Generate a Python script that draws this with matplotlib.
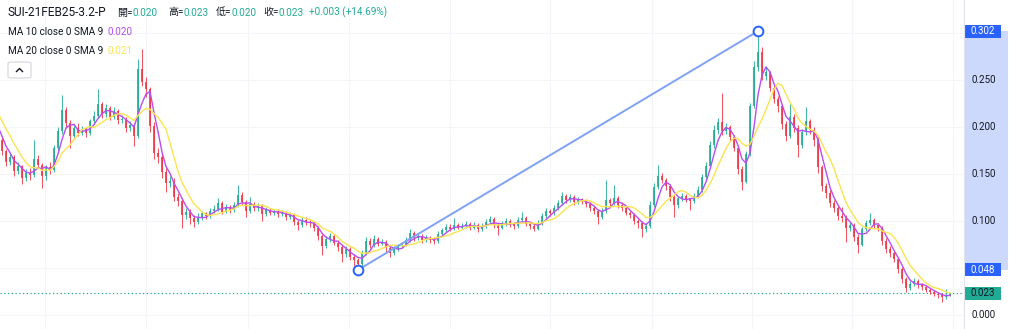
import numpy as np
import pandas as pd
import matplotlib
matplotlib.use("Agg")
import matplotlib.pyplot as plt
from matplotlib.patches import Rectangle, FancyBboxPatch
from matplotlib.lines import Line2D

# candle data (first 8 candles sit left of the visible area)
closes = [0.236, 0.232, 0.226, 0.220, 0.214, 0.205, 0.196, 0.186,
          0.174, 0.163, 0.168, 0.153, 0.158, 0.146, 0.151, 0.149, 0.166, 0.160,
          0.148, 0.157, 0.154, 0.178, 0.196, 0.218, 0.204, 0.190, 0.199, 0.194,
          0.198, 0.194, 0.206, 0.212, 0.224, 0.214, 0.220, 0.211, 0.217, 0.207,
          0.209, 0.199, 0.202, 0.190, 0.262, 0.248, 0.240, 0.201, 0.172, 0.168,
          0.152, 0.140, 0.143, 0.126, 0.121, 0.106, 0.110, 0.103, 0.099, 0.104,
          0.108, 0.105, 0.111, 0.113, 0.119, 0.110, 0.115, 0.112, 0.117, 0.128,
          0.120, 0.111, 0.118, 0.114, 0.116, 0.107, 0.112, 0.109, 0.111, 0.107,
          0.109, 0.104, 0.106, 0.099, 0.096, 0.101, 0.099, 0.098, 0.093, 0.084,
          0.073, 0.081, 0.084, 0.077, 0.072, 0.065, 0.070, 0.062, 0.059, 0.054,
          0.066, 0.079, 0.074, 0.081, 0.076, 0.078, 0.071, 0.066, 0.070, 0.073,
          0.075, 0.080, 0.087, 0.082, 0.084, 0.080, 0.082, 0.080, 0.079, 0.086,
          0.090, 0.094, 0.092, 0.096, 0.093, 0.095, 0.097, 0.093, 0.096, 0.091,
          0.095, 0.099, 0.102, 0.096, 0.093, 0.097, 0.100, 0.097, 0.095, 0.101,
          0.103, 0.097, 0.095, 0.092, 0.098, 0.105, 0.111, 0.108, 0.114, 0.119,
          0.127, 0.122, 0.126, 0.120, 0.123, 0.121, 0.118, 0.114, 0.111, 0.104,
          0.111, 0.122, 0.119, 0.125, 0.117, 0.114, 0.109, 0.106, 0.100, 0.098,
          0.091, 0.095, 0.117, 0.136, 0.148, 0.144, 0.137, 0.126, 0.117, 0.124,
          0.127, 0.123, 0.121, 0.127, 0.133, 0.147, 0.159, 0.181, 0.197, 0.205,
          0.196, 0.200, 0.189, 0.178, 0.155, 0.142, 0.171, 0.222, 0.264, 0.280,
          0.254, 0.258, 0.242, 0.230, 0.222, 0.203, 0.190, 0.211, 0.199, 0.181,
          0.195, 0.206, 0.197, 0.186, 0.157, 0.137, 0.130, 0.119, 0.114, 0.105,
          0.103, 0.093, 0.096, 0.083, 0.075, 0.091, 0.098, 0.101, 0.096, 0.093,
          0.079, 0.070, 0.066, 0.060, 0.049, 0.038, 0.029, 0.033, 0.036, 0.032,
          0.030, 0.027, 0.025, 0.022, 0.021, 0.019, 0.020, 0.023]

highs = [0.240, 0.238, 0.233, 0.227, 0.222, 0.216, 0.208, 0.199,
         0.190, 0.177, 0.172, 0.170, 0.163, 0.160, 0.155, 0.156, 0.186, 0.170,
         0.162, 0.160, 0.163, 0.181, 0.200, 0.234, 0.221, 0.207, 0.203, 0.204,
         0.201, 0.200, 0.209, 0.217, 0.240, 0.227, 0.224, 0.222, 0.221, 0.219,
         0.213, 0.211, 0.206, 0.204, 0.272, 0.283, 0.253, 0.243, 0.205, 0.178,
         0.171, 0.156, 0.148, 0.146, 0.130, 0.124, 0.114, 0.113, 0.106, 0.108,
         0.111, 0.110, 0.114, 0.117, 0.125, 0.121, 0.118, 0.117, 0.120, 0.138,
         0.131, 0.122, 0.126, 0.120, 0.119, 0.118, 0.115, 0.114, 0.113, 0.113,
         0.112, 0.111, 0.110, 0.108, 0.101, 0.104, 0.104, 0.102, 0.100, 0.095,
         0.086, 0.084, 0.087, 0.086, 0.080, 0.074, 0.073, 0.072, 0.065, 0.061,
         0.069, 0.083, 0.082, 0.085, 0.083, 0.081, 0.080, 0.073, 0.073, 0.076,
         0.078, 0.083, 0.091, 0.089, 0.087, 0.086, 0.085, 0.084, 0.083, 0.089,
         0.093, 0.097, 0.097, 0.103, 0.098, 0.098, 0.100, 0.099, 0.099, 0.098,
         0.098, 0.102, 0.105, 0.104, 0.098, 0.100, 0.103, 0.102, 0.099, 0.104,
         0.110, 0.105, 0.099, 0.097, 0.101, 0.108, 0.114, 0.113, 0.117, 0.122,
         0.131, 0.129, 0.129, 0.128, 0.126, 0.125, 0.123, 0.120, 0.116, 0.113,
         0.114, 0.144, 0.125, 0.138, 0.127, 0.120, 0.116, 0.111, 0.108, 0.102,
         0.100, 0.098, 0.121, 0.140, 0.160, 0.151, 0.146, 0.139, 0.128, 0.127,
         0.130, 0.129, 0.125, 0.130, 0.137, 0.150, 0.163, 0.185, 0.202, 0.210,
         0.236, 0.204, 0.202, 0.192, 0.180, 0.158, 0.175, 0.226, 0.270, 0.302,
         0.285, 0.264, 0.260, 0.245, 0.233, 0.225, 0.206, 0.225, 0.214, 0.202,
         0.198, 0.221, 0.209, 0.200, 0.189, 0.160, 0.140, 0.133, 0.122, 0.117,
         0.115, 0.106, 0.099, 0.098, 0.086, 0.094, 0.101, 0.108, 0.103, 0.098,
         0.095, 0.082, 0.073, 0.068, 0.062, 0.051, 0.040, 0.036, 0.039, 0.038,
         0.034, 0.032, 0.029, 0.027, 0.024, 0.023, 0.028, 0.023]

lows = [0.229, 0.227, 0.221, 0.215, 0.208, 0.200, 0.190, 0.181,
        0.170, 0.158, 0.160, 0.148, 0.150, 0.139, 0.143, 0.144, 0.147, 0.156,
        0.135, 0.144, 0.150, 0.152, 0.174, 0.193, 0.199, 0.178, 0.187, 0.190,
        0.191, 0.189, 0.192, 0.203, 0.210, 0.210, 0.211, 0.207, 0.208, 0.203,
        0.204, 0.195, 0.196, 0.180, 0.188, 0.244, 0.232, 0.195, 0.166, 0.162,
        0.146, 0.131, 0.136, 0.121, 0.116, 0.093, 0.102, 0.097, 0.094, 0.097,
        0.101, 0.102, 0.103, 0.108, 0.111, 0.107, 0.108, 0.109, 0.110, 0.115,
        0.117, 0.104, 0.109, 0.111, 0.111, 0.100, 0.105, 0.106, 0.106, 0.104,
        0.105, 0.101, 0.102, 0.096, 0.090, 0.094, 0.096, 0.094, 0.089, 0.080,
        0.064, 0.071, 0.078, 0.074, 0.068, 0.056, 0.062, 0.058, 0.052, 0.048,
        0.052, 0.064, 0.071, 0.072, 0.073, 0.074, 0.067, 0.062, 0.064, 0.068,
        0.071, 0.073, 0.078, 0.079, 0.080, 0.077, 0.078, 0.077, 0.076, 0.077,
        0.084, 0.088, 0.089, 0.090, 0.091, 0.091, 0.093, 0.090, 0.091, 0.088,
        0.089, 0.093, 0.097, 0.093, 0.085, 0.091, 0.095, 0.094, 0.092, 0.093,
        0.099, 0.095, 0.092, 0.089, 0.090, 0.096, 0.103, 0.105, 0.106, 0.112,
        0.117, 0.119, 0.120, 0.117, 0.118, 0.118, 0.115, 0.111, 0.107, 0.097,
        0.102, 0.109, 0.116, 0.117, 0.114, 0.111, 0.106, 0.103, 0.097, 0.093,
        0.083, 0.088, 0.093, 0.115, 0.134, 0.140, 0.133, 0.121, 0.104, 0.114,
        0.121, 0.120, 0.112, 0.119, 0.125, 0.131, 0.145, 0.157, 0.178, 0.193,
        0.192, 0.193, 0.185, 0.174, 0.150, 0.133, 0.140, 0.169, 0.220, 0.260,
        0.250, 0.250, 0.238, 0.226, 0.216, 0.198, 0.185, 0.188, 0.195, 0.168,
        0.178, 0.192, 0.193, 0.180, 0.151, 0.132, 0.125, 0.115, 0.110, 0.101,
        0.099, 0.078, 0.089, 0.079, 0.066, 0.073, 0.089, 0.096, 0.093, 0.089,
        0.075, 0.066, 0.062, 0.056, 0.045, 0.034, 0.025, 0.027, 0.031, 0.029,
        0.027, 0.024, 0.022, 0.020, 0.018, 0.014, 0.017, 0.020]

warmup = 8

# trend line drawn on the chart: candle index and price of both ends
trend_idx = [89, 189]
trend_price = [0.048, 0.302]
last_price = 0.023
tick_values = [0.250, 0.200, 0.150, 0.100, 0.000]
grid_prices = [0.0, 0.05, 0.10, 0.15, 0.20, 0.25, 0.30]

title = "SUI-21FEB25-3.2-P"
ohlc_labels = ["開=", "高=", "低=", "收="]
ohlc_values = ["0.020", "0.023", "0.020", "0.023"]
change_text = "+0.003 (+14.69%)"
ma_labels = ["MA 10 close 0 SMA 9", "MA 20 close 0 SMA 9"]
ma_values = ["0.020", "0.021"]

W, H = 1024, 329
UP = "#22ab94"
DOWN = "#f23645"
PURPLE = "#b84df5"
YELLOW = "#fbe44f"
TEXT = "#131722"
BLUE = "#2962ff"

c = np.array(closes)
hi = np.array(highs)
lo = np.array(lows)
o = np.r_[c[0], c[:-1]]
x = np.arange(len(c)) - warmup
col = np.where(c >= o, UP, DOWN)

fig = plt.figure(figsize=(W / 100, H / 100), dpi=100)
fig.patch.set_facecolor("white")
ax = fig.add_axes([0, 0, 963 / W, 1])
ax.set_xlim(-0.5, 240.25)
ax.set_ylim((315 - H) / 940, 315 / 940)
ax.axis("off")

# faint grid
for gp in grid_prices:
    ax.axhline(gp, color="#f3f5f9", lw=0.8, zorder=0)
for px in [45, 146, 248, 349, 450, 550, 652, 752, 852, 953]:
    ax.axvline((px - 2) / 4, color="#f3f5f9", lw=0.8, zorder=0)

# candles
ax.vlines(x, lo, hi, colors=col, lw=0.75, alpha=0.85, zorder=2)
ax.bar(x, np.maximum(np.abs(c - o), 0.0008), bottom=np.minimum(o, c),
       width=0.62, color=col, linewidth=0, alpha=0.85, zorder=3)

# moving averages
s = pd.Series(c)
ax.plot(x, s.rolling(4).mean(), color=PURPLE, lw=1.0, zorder=4)
ax.plot(x, s.rolling(8).mean(), color=YELLOW, lw=1.0, zorder=4)

# last price line
ax.axhline(last_price, color=UP, lw=0.9, ls=(0, (1, 2)), zorder=1)

# trend line
ax.plot(trend_idx, trend_price, color="#7fa2f6", lw=1.4, zorder=5)
ax.plot(trend_idx, trend_price, "o", ms=7, mfc="white", mec=BLUE, mew=1.4, zorder=6)


def fx(px):
    return px / W


def fy(py):
    return 1 - py / H


def py(price):
    return 315 - 940 * price


# price scale
fig.add_artist(Line2D([fx(963.5), fx(963.5)], [0, 1], color="#e0e3eb", lw=0.8))
fig.add_artist(Rectangle((fx(964), fy(py(trend_price[0]))), fx(1008) - fx(964),
                         fy(py(trend_price[1])) - fy(py(trend_price[0])),
                         color="#ccd9fc", lw=0))
for tv in tick_values:
    fig.text(fx(971), fy(py(tv)), f"{tv:.3f}", fontsize=7, family="Roboto",
             color=TEXT, va="center", ha="left")


def badge(price, bg, fg):
    yc = py(price)
    fig.add_artist(Rectangle((fx(964), fy(yc + 6.5)), fx(1001) - fx(964),
                             fy(yc - 6.5) - fy(yc + 6.5), color=bg, lw=0))
    fig.text(fx(982.5), fy(yc), f"{price:.3f}", fontsize=7, family="Roboto",
             color=fg, va="center", ha="center")


badge(trend_price[1], BLUE, "white")
badge(trend_price[0], BLUE, "white")
badge(last_price, UP, TEXT)

# legend text in the top left
hdr_font = ["Roboto", "Noto Sans CJK TC", "DejaVu Sans"]
renderer = fig.canvas.get_renderer()


def put(x0, y0, pieces, size):
    xx = x0
    for txt, color in pieces:
        t = fig.text(fx(xx), fy(y0), txt, color=color, fontsize=size,
                     family=hdr_font, va="center", ha="left")
        xx += t.get_window_extent(renderer).width
    return xx


put(8, 12.5, [(title, TEXT)], 8.6)
for lx, lab, val in zip([117, 168, 216, 263], ohlc_labels, ohlc_values):
    put(lx, 12.5, [(lab, TEXT), (val, UP)], 7.2)
put(309, 12.5, [(change_text, UP)], 7.2)

put(8, 32, [(ma_labels[0], TEXT)], 7.2)
put(107, 32, [(ma_values[0], PURPLE)], 7.2)
put(8, 51, [(ma_labels[1], TEXT)], 7.2)
put(107, 51, [(ma_values[1], YELLOW)], 7.2)

# collapse button
fig.add_artist(FancyBboxPatch((fx(8), fy(78)), fx(31) - fx(8), fy(62) - fy(78),
                              boxstyle="round,pad=0,rounding_size=0.004",
                              fc="white", ec="#d1d4dc", lw=0.8))
fig.add_artist(Line2D([fx(16.5), fx(19.5), fx(22.5)], [fy(71.5), fy(68.5), fy(71.5)],
                      color=TEXT, lw=1.0))

fig.savefig("out.png", dpi=100, facecolor="white")
